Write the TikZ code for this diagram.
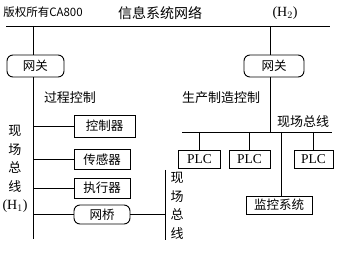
\documentclass[tikz,border=0pt]{standalone}
\usepackage{fontspec}
\setmainfont{Liberation Serif}
\newfontfamily\cjk{Noto Sans CJK SC}
\begin{document}
\begin{tikzpicture}[x=1pt,y=-1pt,
  every path/.style={line width=0.9pt},
  sqbox/.style={draw,line width=0.9pt,inner sep=0pt,font=\cjk\fontsize{12.5}{12.5}\selectfont},
  rndbox/.style={sqbox,rounded corners=6pt},
  plcbox/.style={draw,line width=0.9pt,inner sep=0pt,minimum height=18pt,font=\fontsize{13.5}{13.5}\selectfont},
  lbl/.style={inner sep=0pt,font=\cjk\fontsize{13}{13}\selectfont},
  vlbl/.style={inner sep=0pt,align=center,font=\cjk\fontsize{13}{18.5}\selectfont}]
\path[use as bounding box] (0,0) rectangle (354,253);
% top texts
\node[inner sep=0pt,font=\cjk\fontsize{11.5}{11.5}\selectfont] (copy) at (43,12) {版权所有CA800};
\node[inner sep=0pt,font=\cjk\fontsize{14}{14}\selectfont] (net) at (160,13) {信息系统网络};
\node[inner sep=0pt,font=\fontsize{14}{14}\selectfont] (h2) at (285,13) {(H$_2$)};
% top bus
\coordinate (tl) at (6,26);
\coordinate (tr) at (330,26);
\draw (tl) -- (tr);
% left column
\coordinate (lt) at (33,26);
\coordinate (lb) at (33,239);
\node[rndbox,minimum width=57pt,minimum height=22pt] (gw1) at (35.5,66) {网关};
\draw (lt) -- (lt |- gw1.north);
\draw (lt |- gw1.south) -- (lb);
\node[lbl] (proc) at (70,98) {过程控制};
\node[sqbox,minimum width=61pt,minimum height=22pt] (ctrl) at (104.5,126) {控制器};
\node[sqbox,minimum width=56pt,minimum height=20pt] (sens) at (102,159.5) {传感器};
\node[sqbox,minimum width=56pt,minimum height=20pt] (exec) at (102,188) {执行器};
\node[rndbox,minimum width=56pt,minimum height=19pt] (brg) at (102,214.5) {网桥};
\draw (lt |- ctrl.west) -- (ctrl.west);
\draw (lt |- sens.west) -- (sens.west);
\draw (lt |- exec.west) -- (exec.west);
\draw (lt |- brg.west) -- (brg.west);
\node[vlbl] (fb1) at (15,169) {现\\场\\总\\线\\\fontsize{14}{14}\selectfont\rmfamily(H$_1$)};
% right small bus
\coordinate (rt) at (165,170);
\coordinate (rbm) at (165,240);
\draw (rt) -- (rbm);
\draw (brg.east) -- (brg.east -| rt);
\node[vlbl] (fb2) at (177,206) {现\\场\\总\\线};
% right column
\coordinate (gt) at (270,26);
\node[rndbox,minimum width=60pt,minimum height=22pt] (gw2) at (274,66) {网关};
\draw (gt) -- (gt |- gw2.north);
\coordinate (bl) at (182,132);
\coordinate (br) at (332,132);
\draw (gt |- gw2.south) -- (gt |- bl);
\draw (bl) -- (br);
\node[lbl] (prod) at (221,98) {生产制造控制};
\node[lbl] (fb3) at (303,122) {现场总线};
\node[plcbox,minimum width=42pt] (plc1) at (199.5,159.5) {PLC};
\node[plcbox,minimum width=41pt] (plc2) at (249.5,159.5) {PLC};
\node[plcbox,minimum width=39pt] (plc3) at (313.5,159.5) {PLC};
\draw (plc1.north |- bl) -- (plc1.north);
\draw (plc2.north |- bl) -- (plc2.north);
\draw (plc3.north |- bl) -- (plc3.north);
\node[sqbox,minimum width=66pt,minimum height=18pt] (mon) at (279,205) {监控系统};
\coordinate (md) at (281,132);
\draw (md) -- (md |- mon.north);
\end{tikzpicture}
\end{document}
